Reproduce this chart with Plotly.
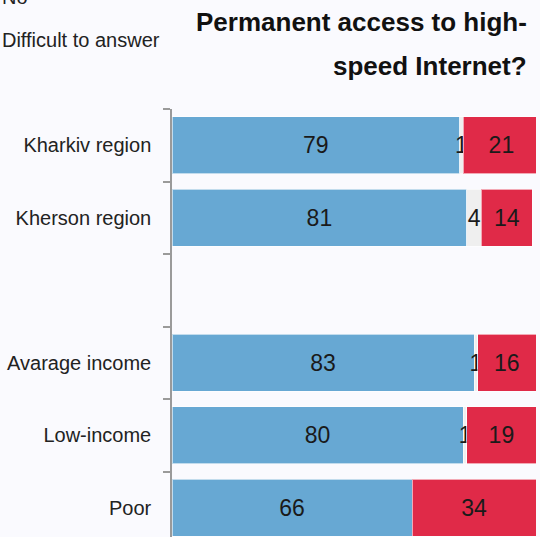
import plotly.graph_objects as go

# Survey groups (the blank entry separates regions from income groups)
categories = ["Kharkiv region", "Kherson region", " ", "Avarage income", "Low-income", "Poor"]
yes_vals = [79, 81, None, 83, 80, 66]
hard_vals = [1, 4, None, 1, 1, 0]
no_vals = [21, 14, None, 16, 19, 34]

series_names = ["Yes", "Difficult to answer", "No"]
series_colors = ["#67a8d3", "#efefef", "#e02a48"]
legend_ranks = [1, 3, 2]

title_lines = ["Permanent access to high-", "speed Internet?"]

BG = "#fafafe"
NUM_FONT = "Liberation Sans, Arial, sans-serif"
LABEL_FONT = "Liberation Sans, Arial, sans-serif"


def labels(vals):
    return [str(v) if v else "" for v in vals]


fig = go.Figure()
for name, vals, color, rank in zip(series_names, [yes_vals, hard_vals, no_vals],
                                   series_colors, legend_ranks):
    fig.add_trace(go.Bar(
        y=categories,
        x=vals,
        name=name,
        orientation="h",
        marker=dict(color=color, line=dict(color="rgba(255,255,255,0.6)", width=1)),
        text=labels(vals),
        textposition="inside",
        insidetextanchor="middle",
        constraintext="none",
        insidetextfont=dict(family=NUM_FONT, size=23, color="#1a1a1a"),
        legendgroup=name,
        legendrank=rank,
        hoverinfo="skip",
    ))

# two-line title, right aligned
for i, line in enumerate(title_lines):
    fig.add_annotation(
        text=line, xref="paper", yref="paper",
        x=0.981, y=(537 - (22 + 44 * i)) / 428,
        xanchor="right", yanchor="middle", showarrow=False,
        font=dict(family="Liberation Sans, Arial, sans-serif", size=26, color="#111111",
                  weight="bold"),
    )

fig.update_layout(
    width=540, height=537,
    margin=dict(l=172, r=4, t=109, b=0, pad=0, autoexpand=False),
    paper_bgcolor=BG, plot_bgcolor=BG,
    barmode="stack",
    bargap=0.214,
    showlegend=True,
    legend=dict(
        x=-0.577, xanchor="left",
        y=(537 - 59) / 428, yanchor="bottom",
        traceorder="grouped",
        tracegroupgap=14,
        font=dict(family=LABEL_FONT, size=20, color="#222222"),
        bgcolor="rgba(0,0,0,0)",
    ),
    xaxis=dict(range=[0, 100], visible=False, fixedrange=True),
    yaxis=dict(
        type="category",
        categoryorder="array", categoryarray=categories,
        range=[5.403, -0.5],
        showline=True, linecolor="#9a9a9a", linewidth=1.5,
        ticks="outside", tickson="boundaries", ticklen=7, tickcolor="#9a9a9a",
        tickwidth=1.5,
        ticklabelstandoff=15,
        tickfont=dict(family=LABEL_FONT, size=20, color="#222222"),
        showgrid=False, zeroline=False,
    ),
)

fig.write_html("out.html")
